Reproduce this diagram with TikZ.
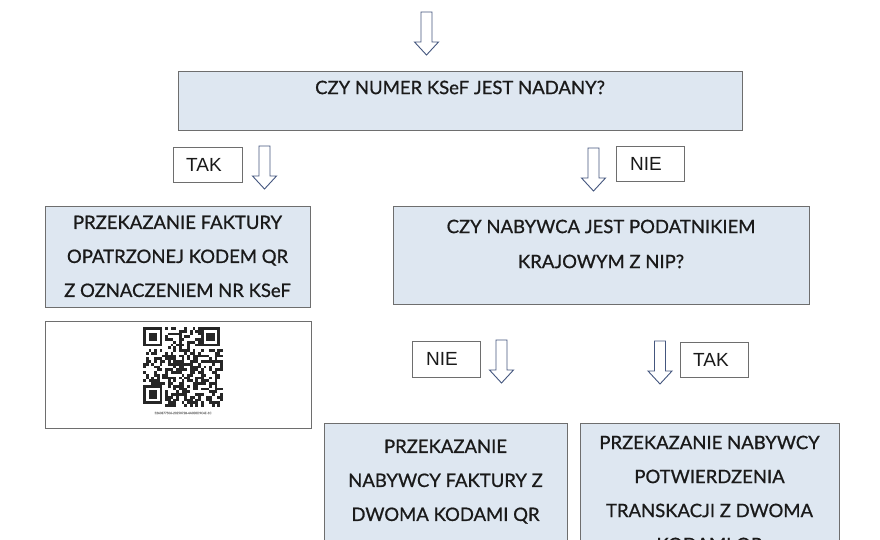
\documentclass[tikz,border=0pt]{standalone}
\usepackage{fontspec}
\setmainfont{Lato}[FakeBold=0.8]
\newfontfamily\labelfont{Liberation Sans}
\definecolor{boxfill}{HTML}{DEE7F1}
\definecolor{boxline}{HTML}{6E6E6E}
\definecolor{arrowline}{HTML}{44567E}
\definecolor{txtcol}{HTML}{1A1A1A}
\tikzset{
  flowbox/.style={draw=boxline, line width=0.9pt, fill=boxfill, anchor=north west, inner sep=0pt},
  whitebox/.style={draw=boxline, line width=0.9pt, fill=white, anchor=north west, inner sep=0pt},
  boxtext/.style={text=txtcol, align=center, inner sep=0pt, anchor=north,
    font=\fontsize{18.5}{34}\selectfont},
  lbltext/.style={text=txtcol, inner sep=0pt, anchor=west, font=\labelfont\fontsize{19}{22}\selectfont},
  pics/downarrow/.style={code={
    \draw[arrowline, line width=0.9pt, fill=white, line join=miter]
      (-5.5,0) -- (5.5,0) -- (5.5,30) -- (12,30) -- (0,43) -- (-12,30) -- (-5.5,30) -- cycle;
  }},
}
\begin{document}
\begin{tikzpicture}[x=1pt,y=-1pt]
\useasboundingbox (0,0) rectangle (880,540);
\clip (0,0) rectangle (880,540);
\fill[white] (0,0) rectangle (880,540);

% top arrow
\pic at (426.5,12) {downarrow};

% question 1
\node[flowbox, minimum width=564pt, minimum height=59pt] (q1) at (178,71) {};
\node[boxtext] (q1t) at (460,80.5) {CZY NUMER KSeF JEST NADANY?};

% TAK / NIE level 1
\node[whitebox, minimum width=69pt, minimum height=35pt] (tak1) at (173,147) {};
\node[lbltext] (tak1t) at ([xshift=13pt]tak1.west) {TAK};
\pic at (264.5,146) {downarrow};
\pic at (593.5,148) {downarrow};
\node[whitebox, minimum width=68pt, minimum height=35pt] (nie1) at (616,146) {};
\node[lbltext] (nie1t) at ([xshift=14pt]nie1.west) {NIE};

% left box
\node[flowbox, minimum width=265pt, minimum height=101pt] (lb) at (45,206) {};
\node[boxtext] (lbt) at (177.5,215.5) {PRZEKAZANIE FAKTURY\\OPATRZONEJ KODEM QR\\Z OZNACZENIEM NR KSeF};

% QR box
\node[whitebox, minimum width=266pt, minimum height=107pt] (qrb) at (45,321) {};
\begin{scope}[shift={(143,327)}]
  \pgfmathsetseed{1234}
  \def\m{2.75}
  \foreach \i in {0,...,28}{
    \foreach \j in {0,...,28}{
      \pgfmathrandominteger{\r}{0}{1}
      \pgfmathtruncatemacro{\skip}{((\i<8)&&(\j<8)) || ((\i>20)&&(\j<8)) || ((\i<8)&&(\j>20)) ? 1 : 0}
      \ifnum\skip=0\relax
        \ifnum\r=1\relax
          \fill[black!85] (\i*\m,\j*\m) rectangle ++(\m,\m);
        \fi
      \fi
    }
  }
  \foreach \cx/\cy in {0/0,21/0,0/21}{
    \fill[black!85] (\cx*\m,\cy*\m) rectangle ++(7*\m,7*\m);
    \fill[white] (\cx*\m+\m,\cy*\m+\m) rectangle ++(5*\m,5*\m);
    \fill[black!85] (\cx*\m+2*\m,\cy*\m+2*\m) rectangle ++(3*\m,3*\m);
  }
\end{scope}
\node[text=black!45, inner sep=0pt, font=\fontsize{3}{3}\selectfont] (qrcap) at (183,413) {5260877506-20250728-4A0E0D9C4E-1C};

% right question box
\node[flowbox, minimum width=416pt, minimum height=98pt] (q2) at (393,206) {};
\node[boxtext, font=\fontsize{18.5}{35}\selectfont] (q2t) at (601,219.5) {CZY NABYWCA JEST PODATNIKIEM\\KRAJOWYM Z NIP?};

% level 2 labels and arrows
\node[whitebox, minimum width=68pt, minimum height=36pt] (nie2) at (412,341) {};
\node[lbltext] (nie2t) at ([xshift=14pt]nie2.west) {NIE};
\pic at (501.5,340) {downarrow};
\pic at (660,341) {downarrow};
\node[whitebox, minimum width=68pt, minimum height=35pt] (tak2) at (680,342) {};
\node[lbltext] (tak2t) at ([xshift=13pt]tak2.west) {TAK};

% bottom boxes
\node[flowbox, minimum width=243pt, minimum height=140pt] (bl) at (324,423) {};
\node[boxtext] (blt) at (445.5,439.5) {PRZEKAZANIE\\NABYWCY FAKTURY Z\\DWOMA KODAMI QR};
\node[flowbox, minimum width=259pt, minimum height=140pt] (br) at (580,423) {};
\node[boxtext] (brt) at (709.5,435.5) {PRZEKAZANIE NABYWCY\\POTWIERDZENIA\\TRANSKACJI Z DWOMA\\KODAMI QR};
\end{tikzpicture}
\end{document}
